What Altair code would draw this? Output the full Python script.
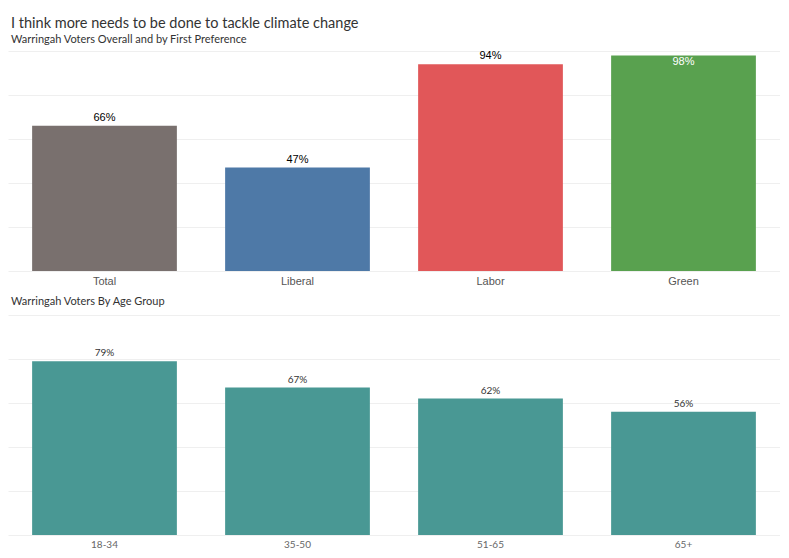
import altair as alt
import pandas as pd

title_text = "I think more needs to be done to tackle climate change"
subtitle_text = "Warringah Voters Overall and by First Preference"
bottom_title = "Warringah Voters By Age Group"

parties = ["Total", "Liberal", "Labor", "Green"]
party_values = [0.66, 0.47, 0.94, 0.98]
party_colors = ["#79706e", "#4e79a7", "#e15759", "#59a14f"]

ages = ["18-34", "35-50", "51-65", "65+"]
age_values = [0.79, 0.67, 0.62, 0.56]
age_color = "#499894"

df1 = pd.DataFrame({"group": parties, "value": party_values})
df2 = pd.DataFrame({"group": ages, "value": age_values})

FONT = "Lato"
LFONT = "Liberation Sans"


def yaxis():
    return alt.Y(
        "value:Q",
        scale=alt.Scale(domain=[0, 1]),
        axis=alt.Axis(title=None, labels=False, ticks=False, domain=False,
                      values=[0, 0.2, 0.4, 0.6, 0.8, 1.0], gridColor="#efefef"),
    )


def xaxis(order, size, color, font):
    return alt.X(
        "group:N", sort=order,
        scale=alt.Scale(paddingInner=0.25, paddingOuter=0.125),
        axis=alt.Axis(title=None, labelAngle=0, domain=False, ticks=False,
                      labelFontSize=size, labelColor=color, labelFont=font,
                      labelPadding=4),
    )


base1 = alt.Chart(df1).encode(x=xaxis(parties, 11, "#555555", LFONT), y=yaxis())
bars1 = base1.mark_bar().encode(
    color=alt.Color("group:N", scale=alt.Scale(domain=parties, range=party_colors), legend=None)
)
lab1_out = base1.transform_filter("datum.value <= 0.95").mark_text(
    baseline="bottom", dy=-3, fontSize=11, font=LFONT, color="#000000"
).encode(text=alt.Text("value:Q", format=".0%"))
lab1_in = base1.transform_filter("datum.value > 0.95").mark_text(
    baseline="top", dy=1, fontSize=11, font=LFONT, color="#ffffff"
).encode(text=alt.Text("value:Q", format=".0%"))
top = alt.layer(bars1, lab1_out, lab1_in).properties(width=772, height=220)

base2 = alt.Chart(df2).encode(x=xaxis(ages, 10, "#666666", FONT), y=yaxis())
bars2 = base2.mark_bar(color=age_color)
lab2 = base2.mark_text(baseline="bottom", dy=-3, fontSize=10, font=FONT, color="#333333").encode(
    text=alt.Text("value:Q", format=".0%")
)
bottom = alt.layer(bars2, lab2).properties(
    width=772, height=220,
    title=alt.Title(bottom_title, anchor="start", fontSize=11, font=FONT, dx=3,
                    fontWeight="normal", color="#333333", offset=8),
)

chart = alt.vconcat(top, bottom, spacing=10).properties(
    title=alt.Title(title_text, subtitle=subtitle_text, anchor="start", dx=3,
                    fontSize=14.5, subtitleFontSize=11, font=FONT, subtitleFont=FONT,
                    fontWeight="normal", color="#333333", subtitleColor="#333333",
                    subtitlePadding=3, offset=4),
    padding={"left": 0, "top": 7, "right": 0, "bottom": 0},
).configure_view(stroke=None)

chart.save("out.html", embed_options={"renderer": "svg", "actions": False})
